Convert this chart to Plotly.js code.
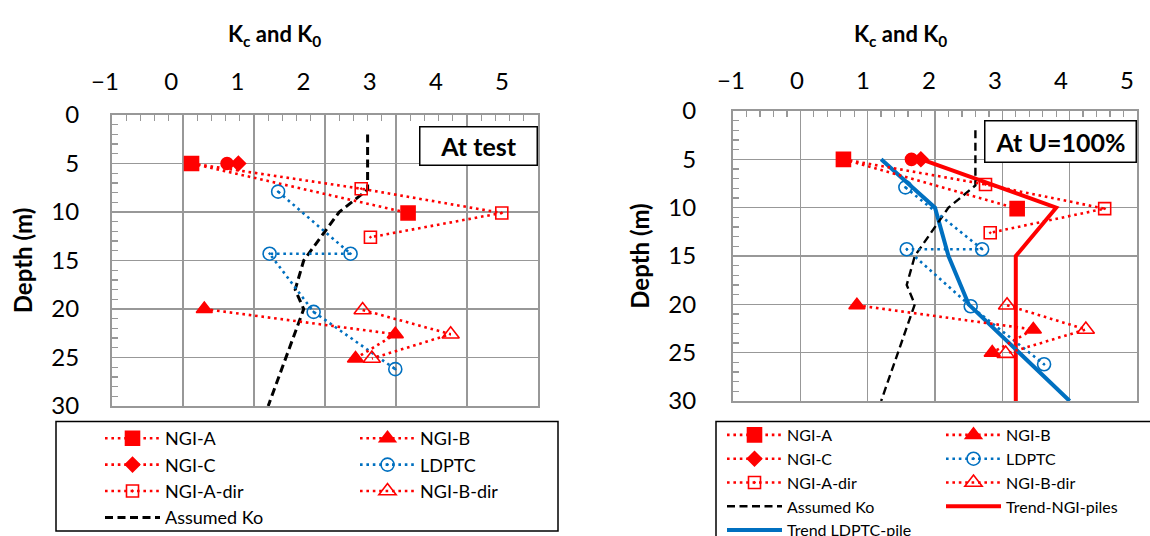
<!DOCTYPE html>
<html><head><meta charset="utf-8">
<script src="https://cdn.plot.ly/plotly-3.0.1.min.js"></script>
<style>html,body{margin:0;padding:0;background:#fff}#chart{width:1150px;height:536px}</style>
</head><body><div id="chart"></div>
<script>
const W = 1150, H = 536;
const xTickVals = [-1, 0, 1, 2, 3, 4, 5];
const yTickVals = [0, 5, 10, 15, 20, 25, 30];

// ---- Left panel: "At test"
const L_ngiA_x = [0.12, 3.17];            const L_ngiA_y = [5, 10.1];
const L_ngiC_x = [0.78];                  const L_ngiC_y = [5];
const L_ngiCpt_x = [0.62];                const L_ngiCpt_y = [5];
const L_ngiAdir_x = [0.12, 2.51, 4.49, 2.64]; const L_ngiAdir_y = [5, 7.6, 10.1, 12.6];
const L_ngiB_x = [0.3, 2.99, 2.43];       const L_ngiB_y = [20, 22.6, 25.1];
const L_ngiBdir_x = [2.53, 3.77, 2.66];   const L_ngiBdir_y = [20.1, 22.6, 25.1];
const L_ldptc_x = [1.34, 2.36, 1.22, 1.84, 2.99]; const L_ldptc_y = [7.9, 14.3, 14.3, 20.3, 26.2];
const L_ko_x = [2.6, 2.6, 2.2, 1.7, 1.58, 1.7, 1.2]; const L_ko_y = [2, 7.7, 10, 15, 18, 20, 30];

// ---- Right panel: "At U=100%"
const R_ngiA_x = [0.64, 3.22];            const R_ngiA_y = [5, 10.1];
const R_ngiC_x = [1.79];                  const R_ngiC_y = [5];
const R_ngiCpt_x = [1.65];                const R_ngiCpt_y = [5];
const R_ngiAdir_x = [0.64, 2.75, 4.52, 2.82]; const R_ngiAdir_y = [5, 7.6, 10.1, 12.6];
const R_ngiB_x = [0.84, 3.46, 2.85];      const R_ngiB_y = [20.1, 22.6, 25];
const R_ngiBdir_x = [3.07, 4.24, 3.05];   const R_ngiBdir_y = [20.1, 22.6, 25.1];
const R_ldptc_x = [1.56, 2.70, 1.58, 2.53, 3.62]; const R_ldptc_y = [7.9, 14.3, 14.3, 20.2, 26.2];
const R_ko_x = [2.6, 2.6, 2.2, 1.7, 1.58, 1.7, 1.2]; const R_ko_y = [2, 7.7, 10, 15, 18, 20, 30];
const R_trendNGI_x = [1.8, 3.8, 3.2, 3.2]; const R_trendNGI_y = [5, 10, 15, 30];
const R_trendLD_x = [1.2, 2.0, 2.2, 2.5, 4.0]; const R_trendLD_y = [5, 10, 15, 20, 30];

const RED = '#FF0000', BLUE = '#0070C0';
const FONT = 'Lato, "Open Sans", sans-serif';
const DOT = '2.6px,3.8px';

function px(p){ return p / W; }
function py(p){ return 1 - p / H; }

function dotted(name, x, y, xa, ya, color, symbol, size, legend, rank, extra){
  return Object.assign({
    type: 'scatter', mode: 'lines+markers', name: name, x: x, y: y,
    xaxis: xa, yaxis: ya, legend: legend, legendrank: rank,
    line: {color: color, width: 2.6, dash: DOT},
    marker: {color: color, symbol: symbol, size: size, line: {color: color, width: 1.6}}
  }, extra || {});
}

const traces = [];
function panel(P, xa, ya, lg1, lg2, koWidth){
  traces.push({type:'scatter', mode:'lines', name:'Assumed Ko', x:P.ko_x, y:P.ko_y, xaxis:xa, yaxis:ya,
    legend: lg1, legendrank: 4, line:{color:'#000', width: koWidth, dash:'8px,4.5px'}});
  traces.push(dotted('LDPTC', P.ldptc_x, P.ldptc_y, xa, ya, BLUE, 'circle-open-dot', 13, lg2, 2));
  traces.push(dotted('NGI-A-dir', P.ngiAdir_x, P.ngiAdir_y, xa, ya, RED, 'square-open-dot', 12, lg1, 3));
  traces.push(dotted('NGI-B-dir', P.ngiBdir_x, P.ngiBdir_y, xa, ya, RED, 'triangle-up-open', 15, lg2, 3));
  traces.push(dotted('NGI-A', P.ngiA_x, P.ngiA_y, xa, ya, RED, 'square', 14, lg1, 1));
  traces.push(dotted('NGI-B', P.ngiB_x, P.ngiB_y, xa, ya, RED, 'triangle-up', 14, lg2, 1));
  traces.push(dotted('NGI-C point', P.ngiCpt_x, P.ngiCpt_y, xa, ya, RED, 'circle', 12, lg1, 9, {showlegend:false}));
  traces.push(dotted('NGI-C', P.ngiC_x, P.ngiC_y, xa, ya, RED, 'diamond', 11, lg1, 2));
}
panel({ngiA_x:L_ngiA_x, ngiA_y:L_ngiA_y, ngiC_x:L_ngiC_x, ngiC_y:L_ngiC_y, ngiCpt_x:L_ngiCpt_x, ngiCpt_y:L_ngiCpt_y,
  ngiAdir_x:L_ngiAdir_x, ngiAdir_y:L_ngiAdir_y, ngiB_x:L_ngiB_x, ngiB_y:L_ngiB_y, ngiBdir_x:L_ngiBdir_x, ngiBdir_y:L_ngiBdir_y,
  ldptc_x:L_ldptc_x, ldptc_y:L_ldptc_y, ko_x:L_ko_x, ko_y:L_ko_y}, 'x', 'y', 'legend', 'legend2', 3);

// right panel trend lines drawn first (under markers)
traces.push({type:'scatter', mode:'lines', name:'Trend-NGI-piles', x:R_trendNGI_x, y:R_trendNGI_y, xaxis:'x2', yaxis:'y2',
  legend:'legend4', legendrank: 4, line:{color:RED, width:4}});
traces.push({type:'scatter', mode:'lines', name:'Trend LDPTC-pile', x:R_trendLD_x, y:R_trendLD_y, xaxis:'x2', yaxis:'y2',
  legend:'legend3', legendrank: 5, line:{color:BLUE, width:4}});
panel({ngiA_x:R_ngiA_x, ngiA_y:R_ngiA_y, ngiC_x:R_ngiC_x, ngiC_y:R_ngiC_y, ngiCpt_x:R_ngiCpt_x, ngiCpt_y:R_ngiCpt_y,
  ngiAdir_x:R_ngiAdir_x, ngiAdir_y:R_ngiAdir_y, ngiB_x:R_ngiB_x, ngiB_y:R_ngiB_y, ngiBdir_x:R_ngiBdir_x, ngiBdir_y:R_ngiBdir_y,
  ldptc_x:R_ldptc_x, ldptc_y:R_ldptc_y, ko_x:R_ko_x, ko_y:R_ko_y}, 'x2', 'y2', 'legend3', 'legend4', 2.4);

// empty traces that carry the top tick-label axes
traces.push({type:'scatter', mode:'markers', x:[], y:[], xaxis:'x3', yaxis:'y3', showlegend:false, hoverinfo:'skip'});
traces.push({type:'scatter', mode:'markers', x:[], y:[], xaxis:'x4', yaxis:'y4', showlegend:false, hoverinfo:'skip'});

const GRID = '#989898';
function dataX(domain, anchor){
  return {domain: domain, anchor: anchor, side:'top', range:[-1,5], tickvals:xTickVals, showticklabels:false,
    showgrid:true, gridcolor:GRID, gridwidth:1.6, zeroline:false,
    showline:true, linecolor:GRID, linewidth:2, mirror:true,
    ticks:'inside', ticklen:6, tickcolor:GRID, tickwidth:1.3,
    minor:{dtick:0.2, ticks:'inside', ticklen:6, tickcolor:GRID, tickwidth:1.3, showgrid:false}};
}
function dataY(domain, anchor, standoff){
  return {domain: domain, anchor: anchor, range:[30,0], tickvals:yTickVals,
    showgrid:true, gridcolor:GRID, gridwidth:1.6, zeroline:false,
    showline:true, linecolor:GRID, linewidth:2, mirror:true,
    ticks:'inside', ticklen:6, tickcolor:GRID, tickwidth:1.3,
    minor:{dtick:1, ticks:'inside', ticklen:6, tickcolor:GRID, tickwidth:1.3, showgrid:false},
    tickfont:{family:FONT, size:24, color:'#000'}, ticklabelstandoff: standoff,
    title:{text:'<b>Depth (m)</b>', font:{family:FONT, size:24, color:'#000'}, standoff: 12}};
}
function labelX(domain, pos){
  return {domain: domain, anchor:'free', position: pos, side:'top', range:[-1,5], tickvals:xTickVals,
    showgrid:false, zeroline:false, showline:false, ticks:'',
    tickfont:{family:FONT, size:24, color:'#000'}};
}
function hiddenY(domain){ return {domain: domain, range:[30,0], visible:false}; }

const yDomL = [py(406), py(115)], yDomR = [py(401), py(111)];

function legendAt(x, y, size){
  return {x: px(x), y: py(y), xanchor:'left', yanchor:'top', xref:'paper', yref:'paper',
    bgcolor:'rgba(0,0,0,0)', borderwidth:0, itemwidth:55, traceorder:'normal',
    font:{family:FONT, size:size, color:'#000'}};
}

const layout = {
  width: W, height: H, margin:{l:0, r:0, t:0, b:0, autoexpand:false},
  paper_bgcolor:'#fff', plot_bgcolor:'rgba(0,0,0,0)',
  showlegend: true,
  font:{family:FONT, color:'#000'},
  xaxis: dataX([px(112), px(538)], 'y'),
  yaxis: dataY(yDomL, 'x', 26),
  xaxis2: dataX([px(733), px(1137)], 'y2'),
  yaxis2: dataY(yDomR, 'x2', 30),
  xaxis3: labelX([px(105), px(502)], py(95)),
  yaxis3: hiddenY(yDomL),
  xaxis4: labelX([px(731), px(1127)], py(94)),
  yaxis4: hiddenY(yDomR),
  legend: legendAt(100, 420, 18),
  legend2: legendAt(355, 420, 18),
  legend3: legendAt(722, 418, 16),
  legend4: legendAt(941, 418, 16),
  shapes: [
    {type:'rect', xref:'paper', yref:'paper', x0:px(56), x1:px(558), y0:py(531), y1:py(421.5), line:{color:'#000', width:1.5}},
    {type:'rect', xref:'paper', yref:'paper', x0:px(716), x1:px(1160), y0:py(545), y1:py(421.5), line:{color:'#000', width:1.5}}
  ],
  annotations: [
    {xref:'paper', yref:'paper', x:px(274), y:py(35), xanchor:'center', yanchor:'middle', showarrow:false,
      text:'<b>K<sub>c</sub> and K<sub>0</sub></b>', font:{family:FONT, size:22, color:'#000'}},
    {xref:'paper', yref:'paper', x:px(900), y:py(35), xanchor:'center', yanchor:'middle', showarrow:false,
      text:'<b>K<sub>c</sub> and K<sub>0</sub></b>', font:{family:FONT, size:22, color:'#000'}},
    {xref:'paper', yref:'paper', x:px(478), y:py(146), xanchor:'center', yanchor:'middle', showarrow:false,
      text:'<b>At test</b>', font:{family:FONT, size:25, color:'#000'}, width:116, height:37,
      bgcolor:'#fff', bordercolor:'#000', borderwidth:1.5, borderpad:0},
    {xref:'paper', yref:'paper', x:px(1060), y:py(141), xanchor:'center', yanchor:'middle', showarrow:false,
      text:'<b>At U=100%</b>', font:{family:FONT, size:25, color:'#000'}, width:150, height:40,
      bgcolor:'#fff', bordercolor:'#000', borderwidth:1.5, borderpad:0}
  ]
};

Plotly.newPlot('chart', traces, layout, {displayModeBar:false, staticPlot:true});
</script>
</body></html>
